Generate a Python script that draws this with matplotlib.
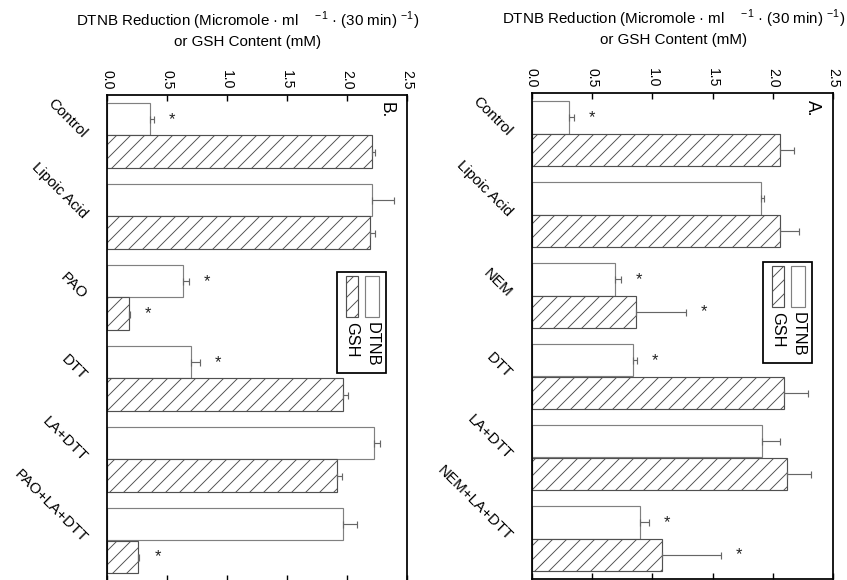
import numpy as np
import matplotlib.pyplot as plt
from matplotlib.patches import Rectangle

plt.rcParams['font.family'] = ['Liberation Sans', 'DejaVu Sans']
plt.rcParams['mathtext.fontset'] = 'custom'
plt.rcParams['mathtext.rm'] = 'Liberation Sans'
plt.rcParams['hatch.linewidth'] = 0.8
plt.rcParams['hatch.color'] = '#444444'

# panel A: NEM series
cats_a = ['Control', 'Lipoic Acid', 'NEM', 'DTT', 'LA+DTT', 'NEM+LA+DTT']
dtnb_a = [0.31, 1.905, 0.69, 0.84, 1.91, 0.895]
dtnb_a_err = [0.035, 0.025, 0.05, 0.03, 0.15, 0.075]
gsh_a = [2.06, 2.06, 0.86, 2.09, 2.12, 1.08]
gsh_a_err = [0.12, 0.16, 0.42, 0.20, 0.20, 0.49]
dtnb_a_sig = [True, False, True, True, False, True]
gsh_a_sig = [False, False, True, False, False, True]

# panel B: PAO series
cats_b = ['Control', 'Lipoic Acid', 'PAO', 'DTT', 'LA+DTT', 'PAO+LA+DTT']
dtnb_b = [0.36, 2.21, 0.63, 0.70, 2.225, 1.97]
dtnb_b_err = [0.03, 0.18, 0.055, 0.075, 0.05, 0.11]
gsh_b = [2.21, 2.19, 0.18, 1.97, 1.92, 0.26]
gsh_b_err = [0.025, 0.045, 0.01, 0.04, 0.04, 0.01]
dtnb_b_sig = [True, False, True, True, False, False]
gsh_b_sig = [False, False, True, False, False, True]

ticks = [0.0, 0.5, 1.0, 1.5, 2.0, 2.5]
tick_labels = ['0.0', '0.5', '1.0', '1.5', '2.0', '2.5']

xlabel = ('DTNB Reduction (Micromole \u00b7 ml    ${}^{-1}$ \u00b7 (30 min) ${}^{-1}$)\n'
          'or GSH Content (mM)')


def draw_panel(ax, cats, dtnb, dtnb_err, gsh, gsh_err, dtnb_sig, gsh_sig, tag, leg_top):
    y = np.arange(len(cats))
    zero = np.zeros(len(cats))
    ekw = dict(ecolor='#666666', elinewidth=1.0, capsize=3, capthick=1.0)
    ax.barh(y - 0.2, dtnb, height=0.4, color='white', edgecolor='#808080',
            linewidth=1.0, xerr=[zero, dtnb_err], error_kw=ekw)
    ax.barh(y + 0.2, gsh, height=0.4, color='white', edgecolor='#505050',
            hatch='//', linewidth=1.0, xerr=[zero, gsh_err], error_kw=ekw)

    for i in range(len(cats)):
        if dtnb_sig[i]:
            ax.text(dtnb[i] + dtnb_err[i] + 0.15, y[i] - 0.2, '*', ha='center',
                    va='center', fontsize=14, color='#222222')
        if gsh_sig[i]:
            ax.text(gsh[i] + gsh_err[i] + 0.15, y[i] + 0.2, '*', ha='center',
                    va='center', fontsize=14, color='#222222')

    ax.set_xlim(0, 2.5)
    ax.set_ylim(5.5, -0.5)
    ax.set_xticks(ticks)
    ax.set_xticklabels(tick_labels, rotation=-90, fontsize=12)
    ax.tick_params(axis='x', direction='in', top=True, bottom=True,
                   labeltop=True, labelbottom=False, length=5, width=1.2, pad=5)
    ax.set_yticks(y)
    ax.set_yticklabels(cats, rotation=-45, ha='right', va='center',
                       rotation_mode='anchor', fontsize=13)
    ax.tick_params(axis='y', length=0, pad=19)
    for s in ax.spines.values():
        s.set_linewidth(1.5)

    ax.xaxis.set_label_position('top')
    ax.set_xlabel(xlabel, fontsize=13, linespacing=1.35)
    ax.xaxis.set_label_coords(0.47, 1.1)

    ax.text(2.33, -0.315, tag, rotation=-90, ha='center', va='center', fontsize=15)

    # legend drawn sideways, entries reading top to bottom
    ax.add_patch(Rectangle((1.92, leg_top), 0.405, 1.247, fill=False,
                           edgecolor='black', linewidth=1.5, clip_on=False))
    ax.add_patch(Rectangle((2.15, leg_top + 0.05), 0.12, 0.506, facecolor='white',
                           edgecolor='#808080', linewidth=1.0))
    ax.add_patch(Rectangle((1.99, leg_top + 0.05), 0.10, 0.506, facecolor='white',
                           edgecolor='#505050', hatch='//', linewidth=1.0))
    ax.text(2.21, leg_top + 0.62, 'DTNB', rotation=-90, ha='center', va='top', fontsize=14)
    ax.text(2.04, leg_top + 0.62, 'GSH', rotation=-90, ha='center', va='top', fontsize=14)


fig = plt.figure(figsize=(847 / 84, 580 / 84), dpi=84)
ax_b = fig.add_axes([107 / 847, 1 - 581 / 580, 300 / 847, 486 / 580])
ax_a = fig.add_axes([532 / 847, 1 - 579 / 580, 301 / 847, 486 / 580])

draw_panel(ax_b, cats_b, dtnb_b, dtnb_b_err, gsh_b, gsh_b_err, dtnb_b_sig, gsh_b_sig, 'B.', 1.685)
draw_panel(ax_a, cats_a, dtnb_a, dtnb_a_err, gsh_a, gsh_a_err, dtnb_a_sig, gsh_a_sig, 'A.', 1.586)

fig.savefig('out.png', dpi=84)
